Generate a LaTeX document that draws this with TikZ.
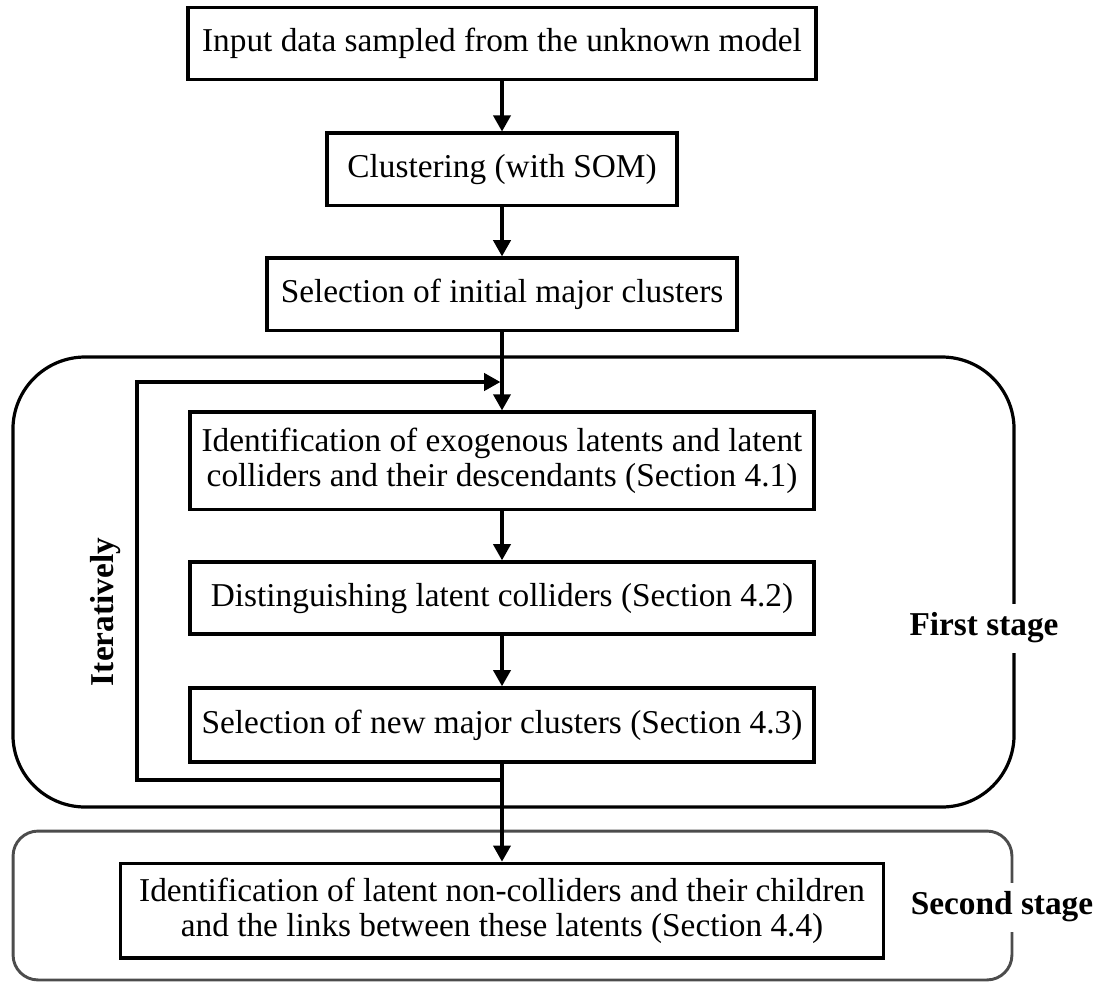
\documentclass[tikz,border=0pt]{standalone}
\usepackage{fontspec}
\setmainfont{Liberation Serif}
\usetikzlibrary{arrows.meta,positioning}

\begin{document}
\begin{tikzpicture}[>={Triangle[length=5.8pt,width=6.2pt]}, node distance=18pt,
  x=0.36pt, y=-0.36pt,
  font=\fontsize{12pt}{12.4pt}\selectfont,
  stepbox/.style={draw, line width=1.35pt, align=center, minimum height=26pt, inner sep=0pt},
  flow/.style={->, line width=1.15pt},
  stagelabel/.style={fill=white, font=\fontsize{12pt}{12.4pt}\selectfont\bfseries}]
  \useasboundingbox (0,0) rectangle (1099,982);
  % stage frames
  \node[draw, line width=1.15pt, rounded corners=26pt, minimum width=360.4pt, minimum height=162pt] (first) at (513.5,582) {};
  \node[draw=black!70, line width=1.05pt, rounded corners=9pt, minimum width=359.6pt, minimum height=53.6pt] (second) at (512.5,905.5) {};
  \node[stagelabel] (firstlbl) at (984,628) {First stage};
  \node[stagelabel] (secondlbl) at (1002,907) {Second stage};
  \node[stagelabel, fill=none, rotate=90] (iterlbl) at (106,612) {Iteratively};
  % steps
  \node[stepbox, minimum width=226.3pt] (input) at (502,43.5) {Input data sampled from the unknown model};
  \node[stepbox, minimum width=126.2pt, below=of input] (som) {Clustering (with SOM)};
  \node[stepbox, minimum width=169.1pt, below=17.6pt of som] (initial) {Selection of initial major clusters};
  \node[stepbox, minimum width=224.5pt, minimum height=35pt, below=28.1pt of initial] (exo) {Identification of exogenous latents and latent\\colliders and their descendants (Section 4.1)};
  \node[stepbox, minimum width=224.5pt, below=17.6pt of exo] (dist) {Distinguishing latent colliders (Section 4.2)};
  \node[stepbox, minimum width=224.5pt, minimum height=26.5pt, below=of dist] (newmajor) {Selection of new major clusters (Section 4.3)};
  \node[stepbox, minimum width=274.6pt, minimum height=34pt, below=35.3pt of newmajor] (noncoll) {Identification of latent non-colliders and their children\\and the links between these latents (Section 4.4)};
  \draw[flow] (input) -- (som);
  \draw[flow] (som) -- (initial);
  \draw[flow] (initial) -- (exo);
  \draw[flow] (exo) -- (dist);
  \draw[flow] (dist) -- (newmajor);
  \draw[flow] (newmajor) -- (noncoll);
  % iteration loop
  \coordinate (loopout) at (newmajor.south |- 0,780);
  \coordinate (loopin) at (exo.north |- 0,382);
  \coordinate (loopcorner) at (137,780);
  \draw[flow, shorten >=0.6pt] (loopout) -- (loopcorner) |- (loopin);
\end{tikzpicture}
\end{document}
